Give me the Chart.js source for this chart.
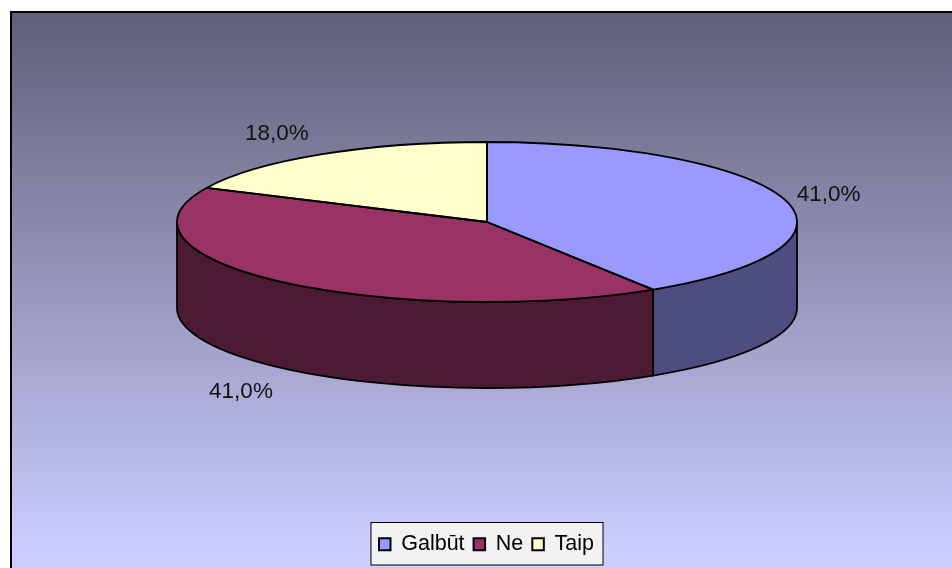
<!DOCTYPE html>
<html>
<head>
<meta charset="utf-8">
<style>
  html, body { margin: 0; padding: 0; background: #ffffff; }
  canvas { display: block; }
</style>
<script src="https://cdn.jsdelivr.net/npm/chart.js@4/dist/chart.umd.min.js"></script>
</head>
<body>
<canvas id="pie" width="952" height="568"></canvas>
<script>
const categories = ['Galbūt', 'Ne', 'Taip'];
const shares = [41, 41, 18];
const topColours = ['#9999FF', '#993366', '#FFFFCC'];
const wallColours = ['#4D4D80', '#4D1A33', '#80805F'];

// Geometry of the tilted disc on the page.
const disc = { cx: 487, cy: 222, rx: 310, ry: 80, depth: 86 };
const labelFont = '22.5px "Liberation Sans", Arial, sans-serif';
// Label offsets from each slice's mid-rim point.
const labelOffsets = [[44, -5], [-41, 110], [-44, -21]];

function rimPoint(angle, drop) {
  return {
    x: disc.cx + disc.rx * Math.cos(angle),
    y: disc.cy + disc.ry * Math.sin(angle) + (drop || 0)
  };
}

function traceWall(ctx, from, to) {
  const a = rimPoint(from), b = rimPoint(to);
  ctx.beginPath();
  ctx.moveTo(a.x, a.y);
  ctx.ellipse(disc.cx, disc.cy, disc.rx, disc.ry, 0, from, to);
  ctx.lineTo(b.x, b.y + disc.depth);
  ctx.ellipse(disc.cx, disc.cy + disc.depth, disc.rx, disc.ry, 0, to, from, true);
  ctx.closePath();
}

const tiltedDisc = {
  id: 'tiltedDisc',
  beforeDraw(chart) {
    const { ctx, width, height, legend } = chart;
    ctx.save();
    // Backdrop: vertical gradient with a frame along the top and left.
    const grad = ctx.createLinearGradient(0, 12, 0, 552);
    grad.addColorStop(0, '#5F5F78');
    grad.addColorStop(1, '#CCCCFF');
    ctx.fillStyle = grad;
    ctx.fillRect(10, 11, width - 10, height - 11);
    ctx.fillStyle = '#000000';
    ctx.fillRect(10, 11, width - 10, 2);
    ctx.fillRect(10, 11, 2, height - 11);

    // Legend panel, sized from the legend's own item boxes.
    const boxes = legend.legendHitBoxes;
    const left = boxes[0].left - 8;
    const last = boxes[boxes.length - 1];
    const right = last.left + last.width + 9;
    const top = legend.top - 2;
    const bottom = legend.bottom;
    ctx.fillStyle = '#F2F2F2';
    ctx.strokeStyle = '#000000';
    ctx.lineWidth = 1;
    ctx.fillRect(left, top, right - left, bottom - top);
    ctx.strokeRect(left, top, right - left, bottom - top);
    ctx.restore();
  },
  beforeDatasetsDraw(chart) {
    const { ctx } = chart;
    const arcs = chart.getDatasetMeta(0).data;

    // Walls are visible only on the near half of the rim.
    ctx.save();
    ctx.strokeStyle = '#000000';
    ctx.lineWidth = 1.8;
    ctx.lineJoin = 'round';
    arcs.forEach((arc, i) => {
      const from = Math.max(arc.startAngle, 0);
      const to = Math.min(arc.endAngle, Math.PI);
      if (to <= from) return;
      traceWall(ctx, from, to);
      ctx.fillStyle = wallColours[i];
      ctx.fill();
      ctx.stroke();
    });
    ctx.restore();

    // Squash the library's round pie into the disc's ellipse.
    const first = arcs[0];
    ctx.save();
    ctx.translate(disc.cx, disc.cy);
    ctx.scale(disc.rx / first.outerRadius, disc.ry / first.outerRadius);
    ctx.translate(-first.x, -first.y);
  },
  afterDatasetsDraw(chart) {
    const { ctx } = chart;
    ctx.restore();
    const arcs = chart.getDatasetMeta(0).data;

    // Crisp outlines on the top face, then the value labels.
    ctx.save();
    ctx.strokeStyle = '#000000';
    ctx.lineWidth = 1.8;
    ctx.lineJoin = 'round';
    arcs.forEach((arc) => {
      const p = rimPoint(arc.startAngle);
      ctx.beginPath();
      ctx.moveTo(disc.cx, disc.cy);
      ctx.lineTo(p.x, p.y);
      ctx.ellipse(disc.cx, disc.cy, disc.rx, disc.ry, 0, arc.startAngle, arc.endAngle);
      ctx.closePath();
      ctx.stroke();
    });

    ctx.fillStyle = '#111111';
    ctx.font = labelFont;
    ctx.textAlign = 'center';
    ctx.textBaseline = 'middle';
    arcs.forEach((arc, i) => {
      const mid = (arc.startAngle + arc.endAngle) / 2;
      const p = rimPoint(mid);
      const text = shares[i].toFixed(1).replace('.', ',') + '%';
      ctx.fillText(text, p.x + labelOffsets[i][0], p.y + labelOffsets[i][1]);
    });
    ctx.restore();
  }
};

new Chart(document.getElementById('pie'), {
  type: 'pie',
  plugins: [tiltedDisc],
  data: {
    labels: categories,
    datasets: [{
      data: shares,
      backgroundColor: topColours,
      borderWidth: 0
    }]
  },
  options: {
    responsive: false,
    animation: false,
    events: [],
    layout: { padding: { left: 21, bottom: 3 } },
    plugins: {
      tooltip: { enabled: false },
      legend: {
        position: 'bottom',
        labels: {
          boxWidth: 11.5,
          boxHeight: 12,
          padding: 9,
          color: '#000000',
          font: { family: '"Liberation Sans", Arial, sans-serif', size: 21.5 },
          generateLabels(chart) {
            return categories.map((name, i) => ({
              text: name,
              fillStyle: topColours[i],
              strokeStyle: '#000000',
              lineWidth: 2,
              index: i
            }));
          }
        }
      }
    }
  }
});
</script>
</body>
</html>
